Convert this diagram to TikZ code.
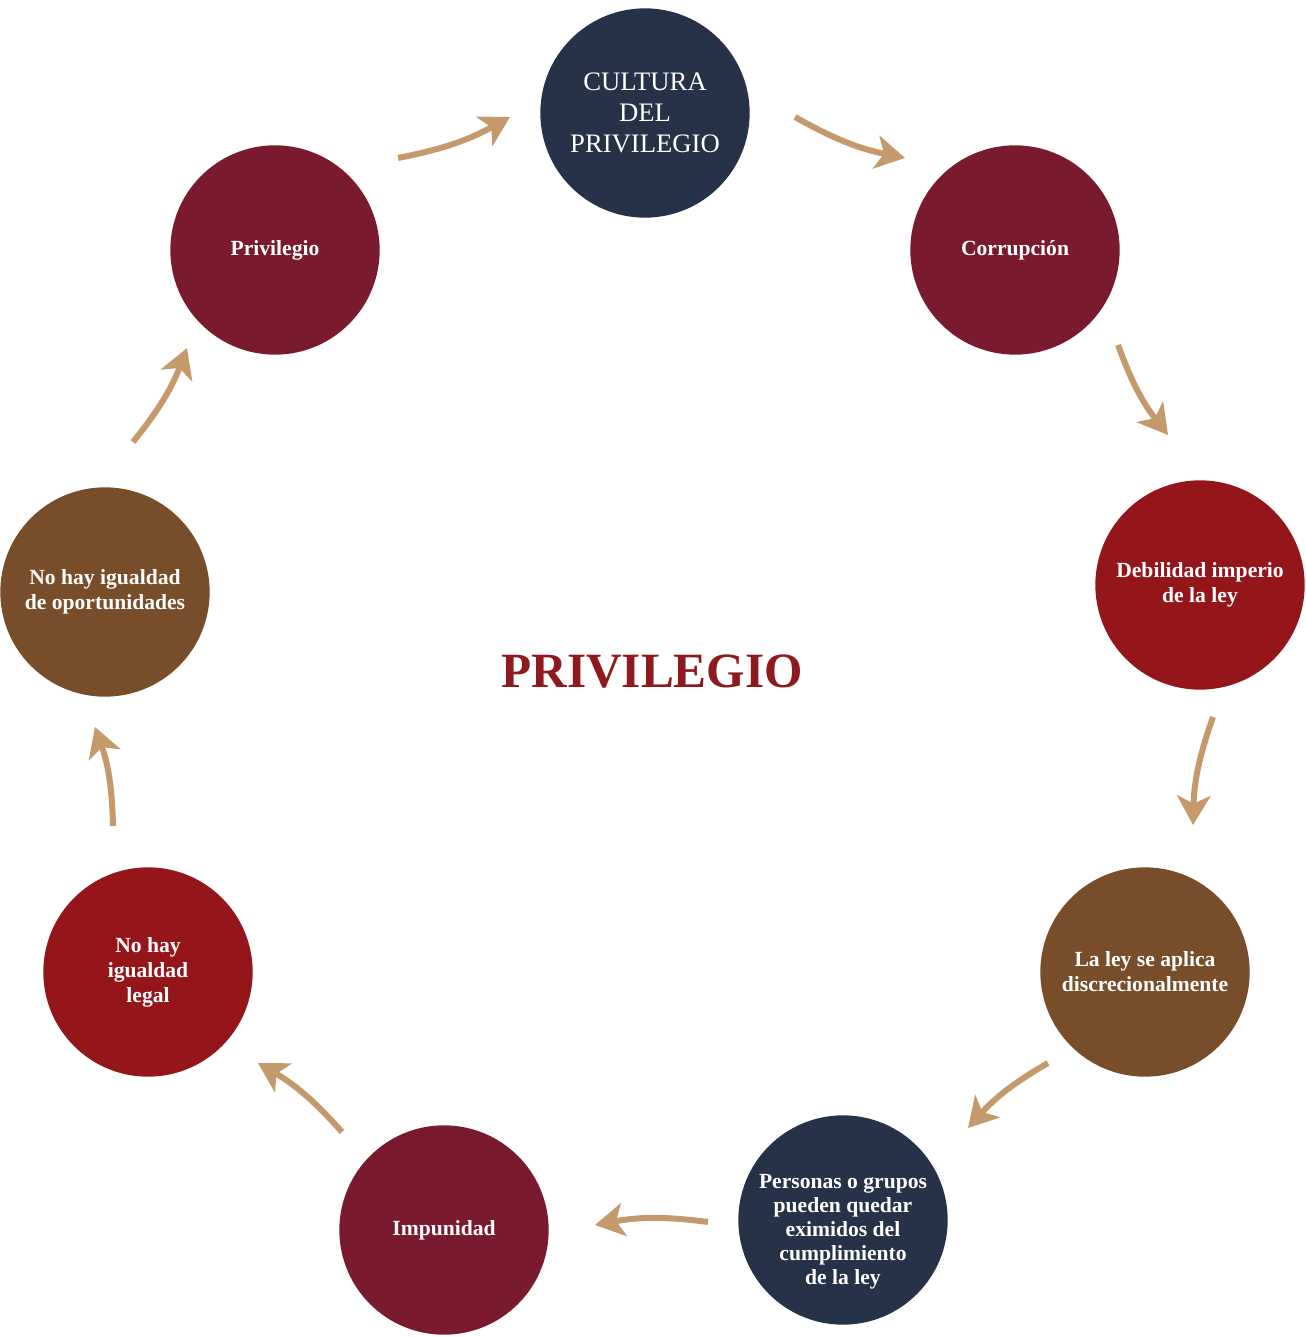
\documentclass[tikz,border=0pt]{standalone}
\usepackage{fontspec}
\setmainfont{Liberation Serif}
\usetikzlibrary{arrows.meta}
\definecolor{navy}{HTML}{263248}
\definecolor{maroon}{HTML}{7A1A2E}
\definecolor{redc}{HTML}{94161B}
\definecolor{brownc}{HTML}{774D2A}
\definecolor{tan}{HTML}{C49A6C}
\definecolor{titlered}{HTML}{8E1A20}
\begin{document}
\begin{tikzpicture}[x=0.75pt,y=-0.75pt,
  bub/.style={circle,minimum size=157pt,inner sep=0pt,text=white,align=center,
    font=\fontsize{16.2}{18.8}\selectfont\bfseries},
  arr/.style={draw=tan,line width=4.5pt,-{Stealth[length=22pt,width=25pt,inset=6pt]}}]
\useasboundingbox (0,0) rectangle (1305,1337);
\node[bub,fill=navy,font=\fontsize{20}{23}\selectfont] (cult) at (645,113) {CULTURA\\DEL\\PRIVILEGIO};
\node[bub,fill=maroon] (corr) at (1015,250) {Corrupción};
\node[bub,fill=redc] (debil) at (1200,585) {Debilidad imperio\\de la ley};
\node[bub,fill=brownc] (ley) at (1145,972) {La ley se aplica\\discrecionalmente};
\node[bub,fill=navy] (pers) at (843,1220) {};
\node[text=white,align=center,font=\fontsize{16.2}{18}\selectfont\bfseries] (perstext) at (843,1232) {Personas o grupos\\pueden quedar\\eximidos del\\cumplimiento\\de la ley};
\node[bub,fill=maroon] (impu) at (444,1230) {Impunidad};
\node[bub,fill=redc] (legal) at (148,972) {No hay\\igualdad\\legal};
\node[bub,fill=brownc] (oport) at (105,592) {No hay igualdad\\de oportunidades};
\node[bub,fill=maroon] (priv) at (275,250) {Privilegio};
\node[text=titlered,font=\fontsize{37}{40}\selectfont\bfseries] (title) at (652,672) {PRIVILEGIO};
% arrow end points
\coordinate (a1s) at (398,158); \coordinate (a1e) at (510,117);
\coordinate (a2s) at (795,117); \coordinate (a2e) at (905,158);
\coordinate (a3s) at (1118,345); \coordinate (a3e) at (1168,435);
\coordinate (a4s) at (1213,717); \coordinate (a4e) at (1193,825);
\coordinate (a5s) at (1048,1063); \coordinate (a5e) at (968,1128);
\coordinate (a6s) at (708,1222); \coordinate (a6e) at (595,1225);
\coordinate (a7s) at (342,1132); \coordinate (a7e) at (258,1063);
\coordinate (a8s) at (113,826); \coordinate (a8e) at (95,727);
\coordinate (a9s) at (133,442); \coordinate (a9e) at (187,348);
\foreach \i in {1,...,9}{
  \draw[arr] (a\i s) to[bend right=9] (a\i e);
}
\end{tikzpicture}
\end{document}
